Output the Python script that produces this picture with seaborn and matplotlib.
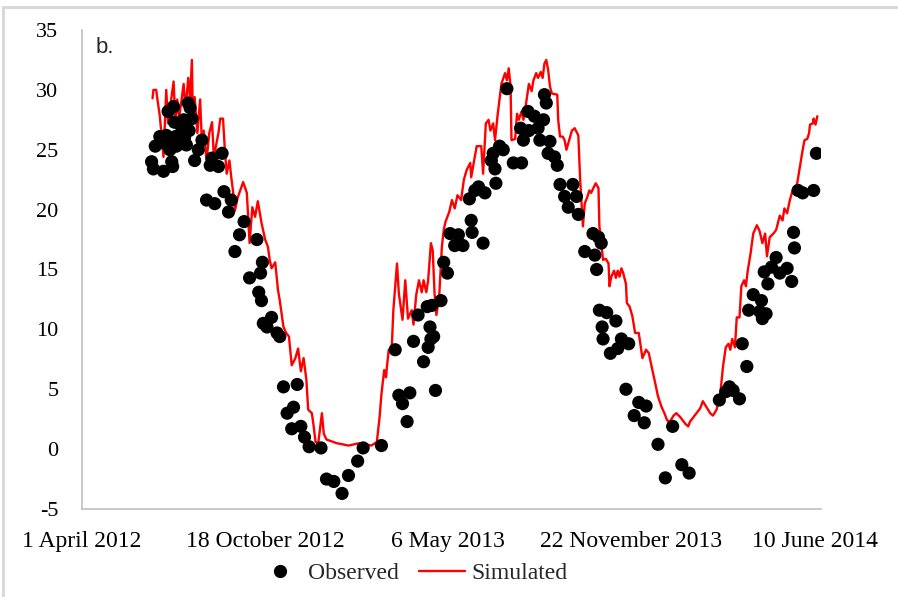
import matplotlib
matplotlib.use("Agg")
import matplotlib.pyplot as plt
import matplotlib.dates as mdates
from matplotlib.lines import Line2D
import pandas as pd
import seaborn as sns

# Water temperature (deg C), observed samples and simulated daily series
start_date = "2012-04-01"
tick_dates = ["2012-04-01", "2012-10-18", "2013-05-06", "2013-11-22", "2014-06-10"]
tick_labels = ["1 April 2012", "18 October 2012", "6 May 2013",
               "22 November 2013", "10 June 2014"]
y_ticks = [-5, 0, 5, 10, 15, 20, 25, 30, 35]
x_span_days = 807

# days after start_date
obs_day = [76, 78, 80, 85, 89, 91, 92, 94, 96, 98, 99, 100, 101, 102, 103,
           107, 109, 111, 112, 114, 116, 117, 118, 120, 123, 127, 131, 136,
           140, 142, 145, 149, 153, 155, 160, 163, 167, 172, 177, 183, 191,
           193, 195, 196, 197, 198, 202, 207, 213, 216, 220, 224, 229, 231,
           235, 239, 243, 248, 261, 267, 275, 284, 291, 301, 307, 327, 342,
           346, 350, 355, 358, 362, 367, 373, 377, 378, 380, 381, 382, 384,
           386, 392, 395, 399, 402, 407, 411, 416, 423, 425, 426, 429, 433,
           438, 440, 447, 449, 451, 452, 456, 460, 464, 471, 479, 480, 482,
           487, 488, 494, 498, 500, 504, 505, 507, 509, 511, 516, 519, 522,
           527, 531, 536, 540, 542, 549, 558, 560, 562, 564, 565, 567, 568,
           569, 573, 577, 583, 585, 589, 594, 597, 603, 608, 614, 616, 629,
           637, 645, 655, 663, 696, 703, 707, 711, 718, 721, 726, 728, 733,
           740, 742, 743, 745, 747, 749, 753, 758, 762, 770, 775, 777, 778,
           782, 787, 799, 802]
obs_temp = [24.0, 23.4, 25.3, 26.1, 23.2, 25.5, 26.2, 28.2, 25.0, 24.0, 23.6,
            28.6, 27.3, 26.1, 25.3, 25.5, 26.8, 27.5, 26.0, 25.4, 28.9, 26.6,
            28.5, 27.6, 24.1, 25.0, 25.8, 20.8, 23.7, 24.3, 20.5, 23.6, 24.7,
            21.5, 19.8, 20.8, 16.5, 17.9, 19.0, 14.3, 17.5, 13.1, 14.7, 12.4,
            15.6, 10.5, 10.2, 11.0, 9.7, 9.4, 5.2, 3.0, 1.7, 3.5, 5.4, 1.9,
            1.0, 0.2, 0.1, -2.5, -2.7, -3.7, -2.2, -1.0, 0.1, 0.3, 8.3, 4.5,
            3.8, 2.3, 4.7, 9.0, 11.2, 7.3, 11.9, 8.5, 10.2, 9.2, 12.0, 9.4,
            4.9, 12.4, 15.6, 14.7, 18.0, 17.0, 17.9, 17.0, 20.9, 19.1, 18.1,
            21.6, 21.9, 17.2, 21.4, 24.1, 24.7, 23.4, 22.2, 25.3, 25.0, 30.1,
            23.9, 26.8, 23.9, 25.8, 28.2, 26.6, 27.8, 26.8, 25.8, 27.5, 29.6,
            28.9, 24.7, 25.7, 24.4, 23.7, 22.1, 21.1, 20.2, 22.1, 21.1, 19.6,
            16.5, 18.0, 16.2, 15.0, 17.7, 11.6, 17.2, 10.2, 9.2, 11.4, 8.0,
            10.7, 8.4, 9.2, 5.0, 8.8, 2.8, 3.9, 2.2, 3.6, 0.4, -2.4, 1.9,
            -1.3, -2.0, 4.1, 4.8, 5.2, 4.9, 4.2, 8.8, 6.9, 11.6, 12.9, 11.5,
            12.4, 10.9, 14.8, 11.3, 13.8, 15.2, 16.0, 14.7, 15.1, 14.0, 18.1,
            16.8, 21.6, 21.4, 21.6, 24.7]

sim_day = [77, 78, 81, 82, 85, 89, 92, 94, 100, 102, 104, 106, 111, 113, 116,
           118, 120, 121, 123, 126, 129, 131, 133, 136, 139, 142, 144, 149,
           151, 154, 156, 158, 161, 163, 165, 167, 170, 176, 180, 183, 186,
           189, 192, 196, 200, 203, 205, 207, 211, 214, 216, 220, 223, 226,
           229, 233, 236, 239, 242, 245, 247, 251, 253, 255, 258, 262, 264,
           267, 278, 291, 303, 316, 322, 325, 327, 330, 332, 333, 335, 338,
           340, 344, 346, 350, 353, 356, 360, 362, 365, 368, 371, 373, 376,
           378, 381, 383, 385, 387, 390, 393, 395, 397, 401, 404, 407, 410,
           414, 417, 420, 424, 425, 429, 431, 436, 438, 441, 444, 446, 449,
           451, 454, 458, 462, 464, 466, 468, 469, 473, 475, 477, 480, 482,
           485, 488, 491, 493, 496, 498, 501, 503, 505, 507, 509, 511, 513,
           519, 520, 522, 525, 527, 529, 532, 535, 538, 542, 544, 547, 549,
           552, 554, 556, 559, 561, 564, 565, 567, 569, 572, 575, 576, 578,
           581, 583, 585, 587, 589, 591, 594, 595, 598, 601, 604, 608, 612,
           616, 619, 622, 626, 629, 633, 636, 639, 642, 646, 649, 653, 656,
           659, 662, 664, 667, 671, 675, 678, 682, 686, 689, 693, 697, 700,
           703, 706, 708, 710, 713, 715, 718, 720, 723, 725, 727, 730, 733,
           737, 740, 743, 746, 748, 751, 755, 758, 760, 762, 765, 767, 770,
           773, 776, 778, 781, 784, 787, 789, 792, 794, 795, 798, 799, 801,
           803]
sim_temp = [29.3, 30.0, 30.0, 29.4, 27.8, 24.4, 30.0, 27.2, 30.7, 27.5, 29.2,
            27.6, 30.5, 28.3, 31.0, 29.2, 32.5, 27.8, 29.4, 26.4, 29.2, 25.5,
            26.6, 24.1, 26.4, 27.3, 24.4, 26.4, 27.6, 27.6, 25.0, 23.0, 24.1,
            22.7, 21.5, 19.9, 21.0, 22.3, 21.4, 17.2, 20.2, 19.4, 20.7, 18.9,
            17.5, 16.9, 15.8, 15.1, 15.6, 13.3, 12.4, 10.2, 9.7, 9.4, 7.0,
            7.6, 8.4, 6.5, 7.6, 5.8, 3.3, 3.0, 1.9, 0.6, 0.5, 3.0, 1.3, 0.8,
            0.5, 0.3, 0.5, 0.3, 0.6, 2.7, 4.6, 6.6, 6.0, 6.9, 8.3, 8.0, 11.6,
            15.5, 13.0, 10.8, 14.1, 10.9, 11.6, 10.4, 12.9, 14.1, 13.1, 14.1,
            13.1, 14.1, 17.2, 16.6, 13.0, 11.2, 12.7, 16.9, 18.3, 19.0, 19.8,
            20.8, 20.1, 21.2, 20.8, 22.5, 23.3, 23.9, 22.7, 24.4, 25.3, 25.3,
            23.0, 27.2, 27.5, 26.6, 27.2, 25.8, 28.0, 30.5, 31.4, 30.8, 31.8,
            30.3, 25.8, 25.9, 28.0, 27.5, 28.2, 27.5, 28.9, 30.5, 29.9, 30.8,
            31.4, 31.0, 31.5, 31.0, 32.2, 32.5, 31.7, 30.3, 29.7, 29.6, 27.5,
            26.1, 26.1, 25.8, 25.0, 25.8, 26.6, 26.8, 26.2, 22.5, 18.6, 20.5,
            21.1, 21.6, 21.4, 21.9, 22.2, 21.8, 18.6, 17.2, 15.8, 15.9, 15.5,
            13.6, 14.4, 14.9, 14.3, 14.9, 14.4, 15.1, 14.7, 13.8, 12.2, 11.9,
            11.1, 9.7, 9.7, 7.6, 8.3, 8.0, 6.9, 5.5, 4.4, 3.5, 3.0, 2.4, 2.3,
            2.8, 3.0, 2.7, 2.4, 2.1, 1.9, 2.3, 2.6, 3.0, 3.4, 4.0, 3.5, 3.0,
            2.8, 3.3, 4.6, 6.9, 8.5, 8.8, 8.3, 9.2, 8.5, 11.0, 11.0, 13.6,
            14.1, 13.6, 14.9, 16.3, 18.0, 18.7, 18.2, 17.2, 18.0, 16.1, 17.7,
            18.0, 18.3, 18.9, 19.5, 19.1, 20.1, 19.7, 20.8, 21.6, 21.4, 22.2,
            23.6, 25.0, 25.8, 25.9, 26.4, 27.1, 27.2, 27.6, 27.1, 27.8]

sns.set_theme(style="white")
plt.rcParams["font.family"] = ["Liberation Serif", "DejaVu Serif"]

t0 = pd.Timestamp(start_date)
obs = pd.DataFrame({"date": t0 + pd.to_timedelta(obs_day, unit="D"),
                    "temp": obs_temp})
sim = pd.DataFrame({"date": t0 + pd.to_timedelta(sim_day, unit="D"),
                    "temp": sim_temp})

W, H = 898, 597
fig = plt.figure(figsize=(W / 100, H / 100), dpi=100)
ax = fig.add_axes([82 / W, 1 - 509 / H, (821 - 82) / W, (509 - 30) / H])

sns.lineplot(data=sim, x="date", y="temp", ax=ax, color="#ff0000",
             linewidth=1.7, estimator=None, sort=False, zorder=2, legend=False)
sns.scatterplot(data=obs, x="date", y="temp", ax=ax, color="black", s=90,
                edgecolor="none", linewidth=0, zorder=3, legend=False)

ax.set_xlim(mdates.date2num(t0),
            mdates.date2num(t0 + pd.Timedelta(days=x_span_days)))
ax.set_ylim(-5, 35)
ax.set_yticks(y_ticks)
ax.set_yticklabels([str(v) for v in y_ticks])
ax.set_xticks(mdates.date2num(pd.to_datetime(tick_dates).to_pydatetime()))
ax.set_xticklabels(tick_labels)
ax.set_xlabel("")
ax.set_ylabel("")

for side in ("top", "right"):
    ax.spines[side].set_visible(False)
for side in ("left", "bottom"):
    ax.spines[side].set_color("#bfbfbf")
    ax.spines[side].set_linewidth(1.2)
ax.tick_params(axis="both", length=0, colors="black")
ax.tick_params(axis="y", pad=17, labelsize=16)
ax.tick_params(axis="x", pad=16, labelsize=17)

ax.text(0.019, 0.985, "b.", transform=ax.transAxes, ha="left", va="top",
        fontsize=16, family=["Liberation Sans", "DejaVu Sans"])

handles = [
    Line2D([], [], marker="o", linestyle="none", color="black",
           markersize=8.5),
    Line2D([], [], color="#ff0000", linewidth=1.7),
]
fig.legend(handles, ["Observed", "Simulated"], loc="center",
           bbox_to_anchor=(412 / W, 1 - 573 / H), ncol=2, frameon=False,
           fontsize=17, handlelength=1.95, handletextpad=0.25,
           columnspacing=0.85)

# chart-area border
fig.add_artist(Line2D([3 / W, 3 / W], [0, 1 - 7 / H], transform=fig.transFigure,
                      color="#d9d9d9", linewidth=2.2))
fig.add_artist(Line2D([3 / W, 1], [1 - 7 / H, 1 - 7 / H],
                      transform=fig.transFigure, color="#d9d9d9",
                      linewidth=2.2))

fig.savefig("out.png", dpi=100)
